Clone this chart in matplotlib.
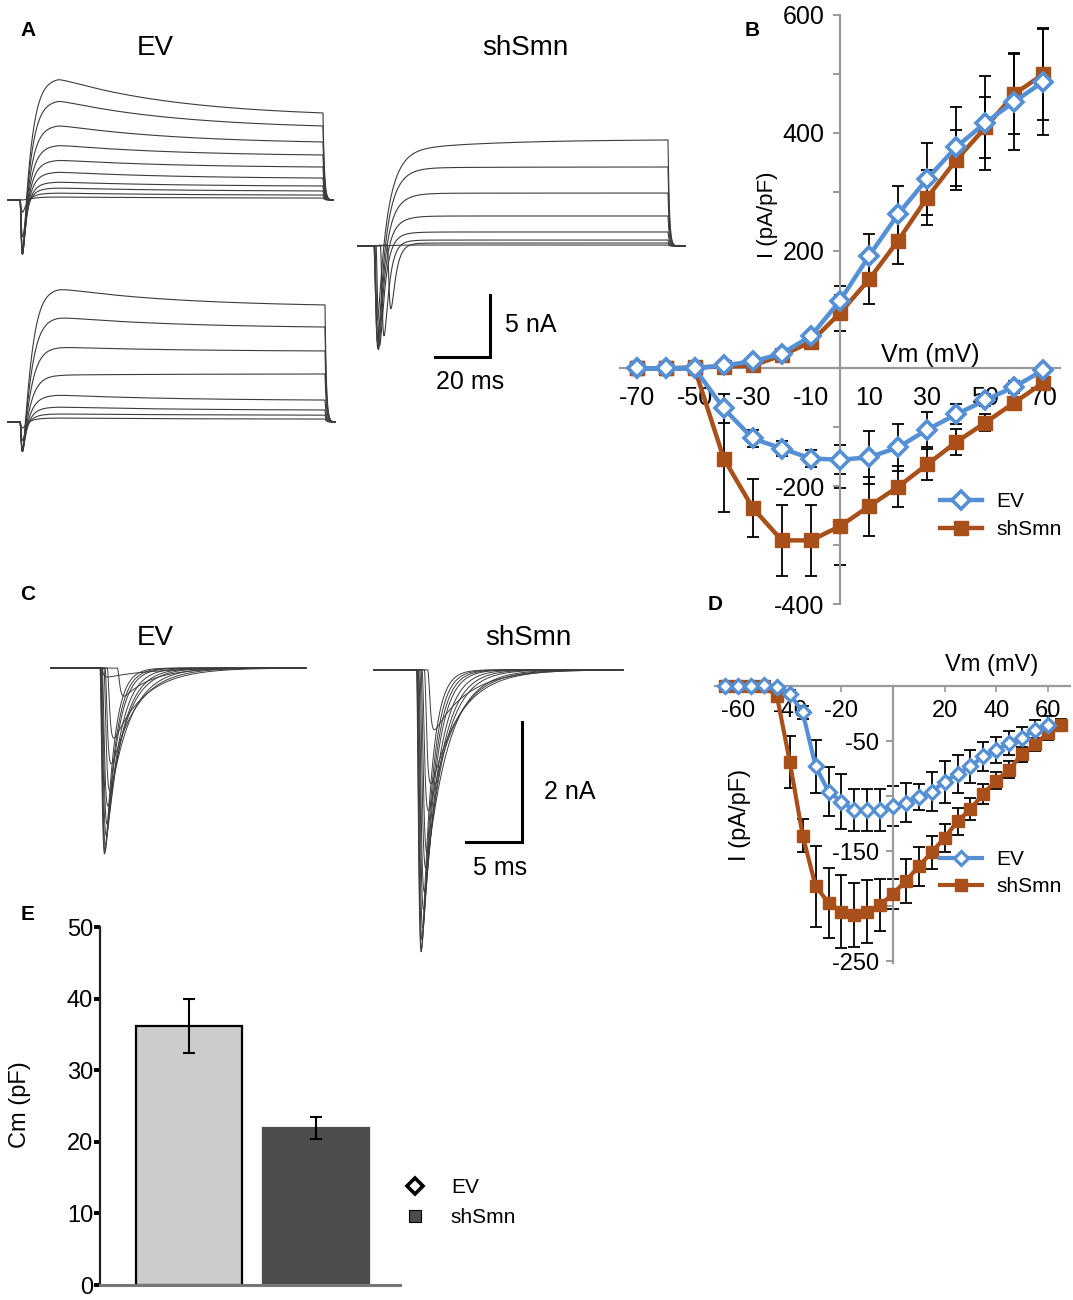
import numpy as np
import matplotlib
matplotlib.use("Agg")
import matplotlib.pyplot as plt
from matplotlib.lines import Line2D

plt.rcParams['font.family'] = ['Liberation Sans', 'DejaVu Sans']
plt.rcParams['axes.unicode_minus'] = False

W, H = 1073, 1300
fig = plt.figure(figsize=(W / 100, H / 100), dpi=100)

EV_C = '#5590d6'
SH_C = '#a9501a'
TRACE_C = '#3c3c3c'

# ---------------- data ----------------
# Panel A: outward K+ currents (nA) at early peak and at pulse end, inward Na+ peak (nA)
A_ev1_peak = [9.84, 8.06, 6.05, 4.44, 3.23, 2.26, 1.45, 0.97, 0.56, 0.24]
A_ev1_end = [7.02, 5.97, 4.68, 3.63, 2.66, 1.77, 1.13, 0.73, 0.40, 0.16]
A_ev1_na = [4.6, 4.6, 4.5, 4.5, 4.4, 4.3, 4.0, 3.0, 1.0, 0.0]
A_ev2_peak = [10.8, 8.47, 6.05, 3.79, 2.18, 1.21, 0.65, 0.32]
A_ev2_end = [9.44, 7.66, 5.73, 3.87, 1.77, 0.97, 0.56, 0.24]
A_ev2_na = [2.6, 2.6, 2.5, 2.5, 2.4, 2.2, 1.5, 0.5]
A_sh_peak = [7.74, 6.30, 4.25, 2.42, 1.13, 0.48, 0.24, 0.08]
A_sh_end = [8.55, 6.37, 4.27, 2.42, 1.13, 0.48, 0.24, 0.08]
A_sh_na = [6.5, 8.2, 8.6, 8.6, 8.2, 7.4, 5.2, 0.0]
A_sh_lat = [0.6, 0.7, 0.8, 1.0, 1.4, 3.0, 5.5, 0.0]

# Panel C: Na+ current peaks (nA), latencies (ms), decay constants (ms)
C_ev_amp = [3.1, 3.05, 2.95, 2.8, 2.6, 2.3, 2.05, 1.6, 1.17, 0.47, 0.15]
C_ev_lat = [0.25, 0.28, 0.3, 0.35, 0.4, 0.45, 0.6, 0.7, 0.9, 1.8, 0.3]
C_ev_tau = [0.8, 0.9, 1.0, 1.2, 1.4, 1.6, 1.9, 2.3, 2.8, 2.6, 4.0]
C_sh_amp = [4.7, 4.65, 4.5, 4.3, 4.0, 3.7, 3.3, 3.05, 2.35, 1.9, 1.0]
C_sh_lat = [0.3, 0.32, 0.35, 0.4, 0.45, 0.5, 0.6, 0.7, 0.8, 1.0, 1.3]
C_sh_tau = [0.8, 0.9, 1.0, 1.1, 1.3, 1.5, 1.7, 2.0, 2.3, 2.6, 3.0]

# Panel B: I-V (pA/pF)
vm_B = [-70, -60, -50, -40, -30, -20, -10, 0, 10, 20, 30, 40, 50, 60, 70]
B_ev_K = [0, 0, 0, 5, 12, 25, 55, 115, 191, 262, 322, 376, 417, 453, 487]
B_ev_K_err = [0, 0, 0, 0, 0, 5, 8, 25, 37, 48, 61, 67, 80, 82, 90]
B_sh_K = [0, 0, 2, 3, 5, 22, 45, 94, 151, 217, 290, 354, 409, 466, 500]
B_sh_K_err = [0, 0, 0, 0, 0, 5, 10, 30, 41, 39, 47, 51, 51, 68, 78]
B_ev_Na = [0, 0, 0, -68, -119, -136, -153, -155, -151, -134, -104, -78, -54, -31, -3]
B_ev_Na_err = [0, 0, 0, 25, 15, 12, 15, 25, 45, 40, 30, 17, 10, 10, 5]
B_sh_Na = [0, 0, 0, -153, -237, -292, -292, -268, -234, -201, -163, -125, -92, -58, -24]
B_sh_Na_err = [0, 0, 0, 90, 50, 60, 60, 65, 50, 35, 27, 22, 15, 10, 5]

# Panel D: Na+ I-V (pA/pF)
vm_D_ev = [-65, -60, -55, -50, -45, -40, -35, -30, -25, -20, -15, -10, -5, 0,
           5, 10, 15, 20, 25, 30, 35, 40, 45, 50, 55, 60]
D_ev = [0, 0, 0, 1, -1, -7, -24, -73, -96, -105, -113, -113, -113, -109,
        -106, -101, -96, -87, -80, -73, -64, -58, -52, -47, -40, -35]
D_ev_err = [0, 0, 0, 0, 0, 3, 6, 24, 22, 25, 19, 19, 19, 18,
            18, 12, 18, 19, 17, 15, 13, 12, 11, 10, 9, 8]
vm_D_sh = [-65, -60, -55, -50, -45, -40, -35, -30, -25, -20, -15, -10, -5, 0,
           5, 10, 15, 20, 25, 30, 35, 40, 45, 50, 55, 60, 65]
D_sh = [0, 0, 0, 0, -9, -69, -136, -182, -197, -205, -208, -205, -199, -189,
        -177, -164, -151, -138, -123, -112, -98, -86, -76, -62, -53, -43, -35]
D_sh_err = [0, 0, 0, 0, 2, 24, 15, 37, 32, 33, 29, 29, 24, 14,
            20, 18, 15, 13, 12, 10, 9, 8, 8, 7, 6, 6, 5]

# Panel E: membrane capacitance (pF)
E_groups = ['EV', 'shSmn']
E_cm = [36.2, 21.9]
E_cm_err = [3.8, 1.5]


def ax_px(left, top, right, bottom):
    return fig.add_axes([left / W, 1 - bottom / H, (right - left) / W, (bottom - top) / H])


def ftext(px, py, s, **kw):
    fig.text(px / W, 1 - py / H, s, **kw)


def na_shape(x, rise, dec):
    xx = np.clip(x, 0, None)
    s = (1 - np.exp(-xx / rise)) ** 3 * np.exp(-xx / dec)
    g = np.linspace(0, 30 * dec, 6000)
    m = ((1 - np.exp(-g / rise)) ** 3 * np.exp(-g / dec)).max()
    return np.where(x > 0, s / m, 0.0)


def k_trace(t, t_on, t_off, i_pk, i_end, na_amp, na_lat, base,
            tau_act=2.6, tau_in=45.0, na_rise=0.4, na_dec=1.3, t_hold=14.0):
    tt = t - t_on
    act = (1 - np.exp(-np.clip(tt, 0, None) / tau_act)) ** 3
    ti = np.clip(tt - t_hold, 0, None)
    dur = t_off - t_on - t_hold
    w = (np.exp(-ti / tau_in) - np.exp(-dur / tau_in)) / (1 - np.exp(-dur / tau_in))
    k = act * (i_end + (i_pk - i_end) * w)
    na = na_amp * na_shape(tt - na_lat, na_rise, na_dec)
    i = k - na
    on = (t >= t_on) & (t <= t_off)
    i_off = np.interp(t_off, t, i)
    tail = i_off * np.exp(-np.clip(t - t_off, 0, None) / 0.5)
    out = np.where(on, i, np.where(t > t_off, tail, 0.0))
    return base + out


# ---------------- Panel A ----------------
pxA_ms, pxA_nA = 2.75, 12.4
axA = ax_px(0, 60, 700, 470)
axA.set_xlim(0, 700 / pxA_ms)
axA.set_ylim((200 - 470) / pxA_nA, (200 - 60) / pxA_nA)
axA.axis('off')

t1 = np.arange(8 / pxA_ms, 333 / pxA_ms, 0.04)
for pk, en, na in zip(A_ev1_peak, A_ev1_end, A_ev1_na):
    axA.plot(t1, k_trace(t1, 20 / pxA_ms, 323 / pxA_ms, pk, en, na, 0.0, 0.0),
             color=TRACE_C, lw=0.8)
t2 = np.arange(8 / pxA_ms, 335 / pxA_ms, 0.04)
base2 = (200 - 422) / pxA_nA
for pk, en, na in zip(A_ev2_peak, A_ev2_end, A_ev2_na):
    axA.plot(t2, k_trace(t2, 20 / pxA_ms, 325 / pxA_ms, pk, en, na, 0.0, base2),
             color=TRACE_C, lw=0.8)
t3 = np.arange(358 / pxA_ms, 685 / pxA_ms, 0.04)
base3 = (200 - 246) / pxA_nA
for pk, en, na, lat in zip(A_sh_peak, A_sh_end, A_sh_na, A_sh_lat):
    axA.plot(t3, k_trace(t3, 372 / pxA_ms, 668 / pxA_ms, pk, en, na, lat, base3,
                         tau_act=3.8, tau_in=35.0, na_rise=0.6, na_dec=1.8, t_hold=8.0),
             color=TRACE_C, lw=0.8)

# scale bar A
sbx = 490 / pxA_ms
sby0 = (200 - 357) / pxA_nA
axA.plot([sbx - 20, sbx, sbx], [sby0, sby0, sby0 + 5], color='black', lw=2.2,
         solid_joinstyle='miter')
axA.text(sbx + 5.5, sby0 + 2.6, '5 nA', fontsize=18, va='center', ha='left')
axA.text(sbx - 7.3, sby0 - 2.0, '20 ms', fontsize=18, va='center', ha='center')

ftext(155, 48, 'EV', fontsize=20, ha='center', va='center')
ftext(525, 48, 'shSmn', fontsize=20, ha='center', va='center')

# ---------------- Panel C ----------------
pxC_ms, pxC_nA = 11.2, 60.0
axC = ax_px(0, 600, 700, 960)
axC.set_xlim(0, 700 / pxC_ms)
axC.set_ylim((668 - 960) / pxC_nA, (668 - 600) / pxC_nA)
axC.axis('off')
axC.patch.set_alpha(0)

tc1 = np.arange(51 / pxC_ms, 306 / pxC_ms, 0.01)
for a, l, tau in zip(C_ev_amp, C_ev_lat, C_ev_tau):
    y = -a * na_shape(tc1 - 97 / pxC_ms - l, 0.15, tau)
    axC.plot(tc1, y, color=TRACE_C, lw=0.7)
tc2 = np.arange(374 / pxC_ms, 623 / pxC_ms, 0.01)
for a, l, tau in zip(C_sh_amp, C_sh_lat, C_sh_tau):
    y = -0.03 - a * na_shape(tc2 - 413 / pxC_ms - l, 0.15, tau)
    axC.plot(tc2, y, color=TRACE_C, lw=0.7)

scx = 522 / pxC_ms
scy0 = (668 - 842) / pxC_nA
axC.plot([scx - 5, scx, scx], [scy0, scy0, scy0 + 2], color='black', lw=2.2,
         solid_joinstyle='miter')
axC.text(scx + 4.3, scy0 + 0.83, '2 nA', fontsize=18, va='center', ha='center')
axC.text(scx - 2.0, scy0 - 0.43, '5 ms', fontsize=18, va='center', ha='center')

ftext(155, 638, 'EV', fontsize=20, ha='center', va='center')
ftext(528, 638, 'shSmn', fontsize=20, ha='center', va='center')

# ---------------- Panel B ----------------
pxB = 2.907
axB = ax_px(620, 15, 1060, 604)
axB.set_xlim((620 - 840) / pxB, (1060 - 840) / pxB)
axB.set_ylim(-400, 600)
axB.patch.set_alpha(0)
for s in ['top', 'right']:
    axB.spines[s].set_visible(False)
for s in ['left', 'bottom']:
    axB.spines[s].set_position(('data', 0))
    axB.spines[s].set_color('#9a9a9a')
    axB.spines[s].set_linewidth(1.6)
axB.spines['left'].set_bounds(-400, 600)
axB.set_xticks(vm_B[::2])
axB.set_xticklabels([str(v) for v in vm_B[::2]])
axB.tick_params(axis='x', length=0, pad=13, labelsize=18)
axB.set_yticks([-400, -200, 200, 400, 600])
axB.set_yticks([-300, -100, 100, 300, 500], minor=True)
axB.tick_params(axis='y', which='both', direction='out', length=5, width=1.4,
                color='#9a9a9a', pad=6, labelsize=18)

ekw = dict(fmt='none', ecolor='black', elinewidth=1.3, capsize=4, capthick=1.3, zorder=2)
axB.errorbar(vm_B, B_ev_K, yerr=B_ev_K_err, **ekw)
axB.errorbar(vm_B, B_sh_K, yerr=B_sh_K_err, **ekw)
axB.errorbar(vm_B, B_ev_Na, yerr=B_ev_Na_err, **ekw)
axB.errorbar(vm_B, B_sh_Na, yerr=B_sh_Na_err, **ekw)
shkw = dict(color=SH_C, lw=3.2, marker='s', ms=10, mfc=SH_C, mec=SH_C, zorder=3)
evkw = dict(color=EV_C, lw=3.2, marker='D', ms=9, mfc='white', mec=EV_C, mew=2.6, zorder=4)
axB.plot(vm_B, B_sh_K, **shkw)
axB.plot(vm_B, B_sh_Na, **shkw)
axB.plot(vm_B, B_ev_K, **evkw)
axB.plot(vm_B, B_ev_Na, **evkw)
ftext(930, 355, 'Vm (mV)', fontsize=18, ha='center', va='center')
ftext(768, 215, 'I (pA/pF)', fontsize=16, ha='center', va='center', rotation=90)

hB = [Line2D([], [], **{k: v for k, v in evkw.items() if k != 'zorder'}),
      Line2D([], [], **{k: v for k, v in shkw.items() if k != 'zorder'})]
axB.legend(hB, ['EV', 'shSmn'], loc='upper left', bbox_to_anchor=(940 / W, 1 - 492 / H),
           bbox_transform=fig.transFigure, frameon=False, fontsize=15,
           handlelength=2.0, handletextpad=0.7, borderpad=0, borderaxespad=0,
           labelspacing=0.45)

# ---------------- Panel D ----------------
pxD_x, pxD_y = 2.58, 1.1
axD = ax_px(715, 650, 1070, 965)
axD.set_xlim((715 - 893) / pxD_x, (1070 - 893) / pxD_x)
axD.set_ylim((686 - 965) / pxD_y, (686 - 650) / pxD_y)
axD.patch.set_alpha(0)
for s in ['top', 'right']:
    axD.spines[s].set_visible(False)
for s in ['left', 'bottom']:
    axD.spines[s].set_position(('data', 0))
    axD.spines[s].set_color('#9a9a9a')
    axD.spines[s].set_linewidth(1.6)
axD.spines['left'].set_bounds(-252, 0)
axD.set_xticks([-60, -40, -20, 20, 40, 60])
axD.set_xticklabels(['-60', '-40', '-20', '20', '40', '60'])
axD.tick_params(axis='x', direction='out', length=4, width=1.2, color='#9a9a9a',
                pad=6, labelsize=17)
axD.set_yticks([-250, -150, -50])
axD.set_yticks([-200, -100], minor=True)
axD.tick_params(axis='y', which='both', direction='out', length=5, width=1.4,
                color='#9a9a9a', pad=5, labelsize=17)
axD.errorbar(vm_D_ev, D_ev, yerr=D_ev_err, **ekw)
axD.errorbar(vm_D_sh, D_sh, yerr=D_sh_err, **ekw)
shkwD = dict(color=SH_C, lw=3.0, marker='s', ms=8, mfc=SH_C, mec=SH_C, zorder=3)
evkwD = dict(color=EV_C, lw=3.0, marker='D', ms=7.5, mfc='white', mec=EV_C, mew=2.3, zorder=4)
axD.plot(vm_D_sh, D_sh, **shkwD)
axD.plot(vm_D_ev, D_ev, **evkwD)
ftext(992, 665, 'Vm (mV)', fontsize=17, ha='center', va='center')
ftext(740, 815, 'I (pA/pF)', fontsize=17, ha='center', va='center', rotation=90)
hD = [Line2D([], [], **{k: v for k, v in evkwD.items() if k != 'zorder'}),
      Line2D([], [], **{k: v for k, v in shkwD.items() if k != 'zorder'})]
axD.legend(hD, ['EV', 'shSmn'], loc='upper left', bbox_to_anchor=(940 / W, 1 - 850 / H),
           bbox_transform=fig.transFigure, frameon=False, fontsize=15,
           handlelength=2.0, handletextpad=0.7, borderpad=0, borderaxespad=0,
           labelspacing=0.4)

# ---------------- Panel E ----------------
axE = ax_px(100, 927, 400, 1285)
axE.set_xlim(-0.7, 1.66)
axE.set_ylim(0, 50)
axE.patch.set_alpha(0)
xE = np.arange(len(E_groups))
axE.bar(xE, E_cm, width=0.83, color=['#cccccc', '#4d4d4d'],
        edgecolor=['black', '#4d4d4d'], linewidth=1.6, zorder=2)
axE.errorbar(xE, E_cm, yerr=E_cm_err, fmt='none', ecolor='black', elinewidth=1.5,
             capsize=4, capthick=1.5, zorder=3)
for s in ['top', 'right']:
    axE.spines[s].set_visible(False)
axE.spines['left'].set_color('#222222')
axE.spines['left'].set_linewidth(1.6)
axE.spines['bottom'].set_color('#777777')
axE.spines['bottom'].set_linewidth(2.2)
axE.set_xticks([])
axE.set_yticks([0, 10, 20, 30, 40, 50])
axE.tick_params(axis='y', direction='out', length=4, width=2.8, color='black',
                pad=1, labelsize=17)
ftext(20, 1105, 'Cm (pF)', fontsize=17, ha='center', va='center', rotation=90)
hE = [Line2D([], [], ls='none', marker='D', ms=8, mfc='white', mec='black', mew=2.6),
      Line2D([], [], ls='none', marker='s', ms=8, mfc='#4d4d4d', mec='black', mew=0.8)]
axE.legend(hE, ['EV', 'shSmn'], loc='upper left', bbox_to_anchor=(405 / W, 1 - 1178 / H),
           bbox_transform=fig.transFigure, frameon=False, fontsize=15,
           handlelength=1.0, handletextpad=1.2, borderpad=0, borderaxespad=0,
           labelspacing=0.55)

# panel letters
for lab, (px, py) in {'A': (28, 30), 'B': (752, 30), 'C': (28, 595),
                      'D': (715, 604), 'E': (28, 915)}.items():
    ftext(px, py, lab, fontsize=15, fontweight='bold', ha='center', va='center')

fig.savefig('out.png', dpi=100)
